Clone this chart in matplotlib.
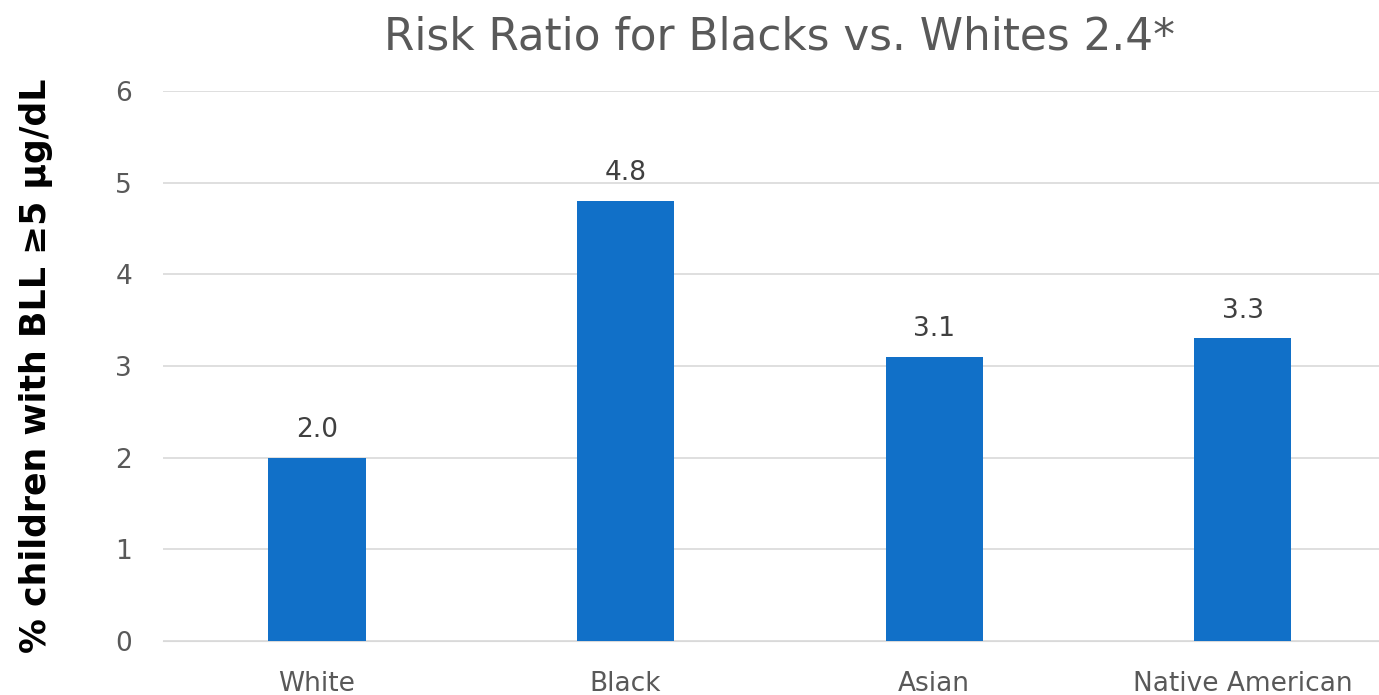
import matplotlib.pyplot as plt

groups = ["White", "Black", "Asian", "Native American"]
pct = [2.0, 4.8, 3.1, 3.3]
yticks = [0, 1, 2, 3, 4, 5, 6]

plt.rcParams['font.family'] = ['DejaVu Sans']

fig = plt.figure(figsize=(13.79, 6.95), dpi=100)
ax = fig.add_axes([0.118, 0.078, 0.895, 0.791])

bars = ax.bar(range(len(groups)), pct, width=0.315, color='#1170C8', zorder=3)
for b, v in zip(bars, pct):
    ax.text(b.get_x() + b.get_width() / 2, v + 0.16, f"{v:.1f}",
            ha='center', va='bottom', fontsize=19, color='#404040')

ax.set_xlim(-0.5, 3.5)
ax.set_ylim(0, 6)
ax.set_yticks(yticks)
ax.set_xticks(range(len(groups)))
ax.set_xticklabels(groups)
ax.grid(axis='y', color='#d9d9d9', linewidth=1.2, zorder=0)
for s in ['top', 'right', 'left']:
    ax.spines[s].set_visible(False)
ax.spines['bottom'].set_color('#d9d9d9')
ax.tick_params(axis='both', length=0, labelsize=19, labelcolor='#595959')
ax.tick_params(axis='x', pad=22)
ax.tick_params(axis='y', pad=22)
ax.set_ylabel("% children with BLL \u22655 \u00b5g/dL", fontsize=25, fontweight='bold',
              color='black', labelpad=45)
ax.set_title("Risk Ratio for Blacks vs. Whites 2.4*", fontsize=31.5, color='#595959', pad=30)

plt.savefig("out.png", dpi=100)
